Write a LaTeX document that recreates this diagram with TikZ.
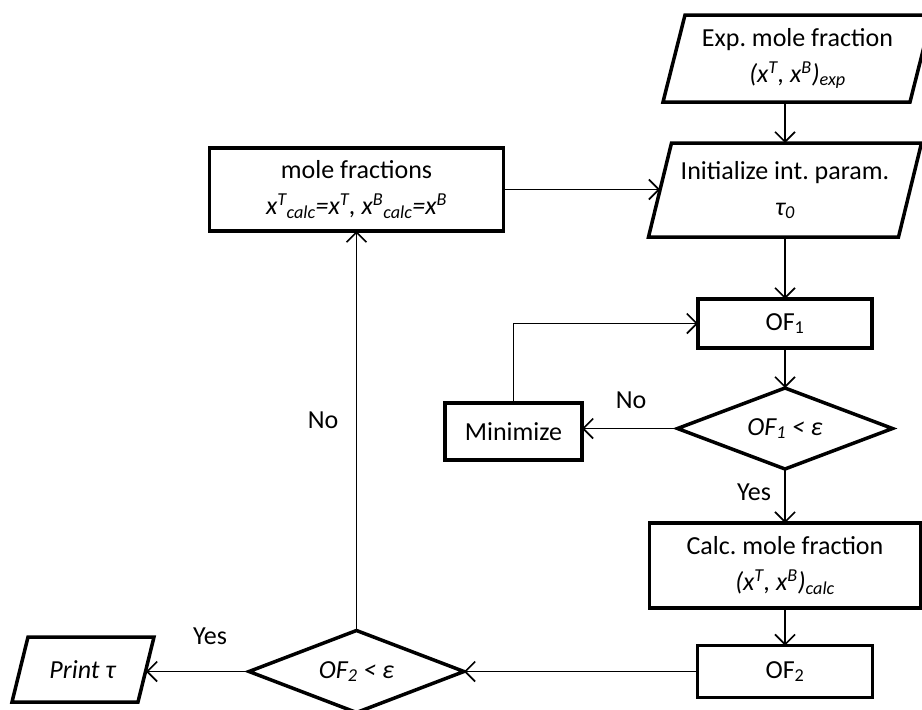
\documentclass[tikz,border=0pt]{standalone}
\usepackage{fontspec}
\setmainfont{Carlito}
\usetikzlibrary{arrows.meta}
\frenchspacing
\begin{document}
\begin{tikzpicture}[x=1pt,y=-1pt,
  txt/.style={inner sep=0pt, outer sep=0pt, align=center, font=\fontsize{26}{36}\selectfont},
  rbox/.style={txt, draw, line width=3.5pt},
  shp/.style={line width=3.5pt, line join=miter},
  conn/.style={line width=1.6pt, -{Straight Barb[length=10pt,width=20pt,line width=1.6pt]}},
  lbl/.style={inner sep=0pt, font=\fontsize{26}{30}\selectfont}]
\useasboundingbox (0,0) rectangle (922,710);
% nodes
\node[txt, minimum width=247pt, minimum height=87pt] (exp) at (797.5,58.5)
  {Exp. mole fraction\\ \textit{(x\textsuperscript{T}, x\textsuperscript{B})\textsubscript{exp}}};
\node[txt, minimum width=250pt, minimum height=94pt] (init) at (785,190)
  {Initialize int. param.\\ \textit{τ\textsubscript{0}}};
\node[rbox, minimum width=294pt, minimum height=83pt] (mole) at (356.5,189.5)
  {mole fractions\\ \textit{x\textsuperscript{T}\textsubscript{calc}=x\textsuperscript{T}, x\textsuperscript{B}\textsubscript{calc}=x\textsuperscript{B}}};
\node[rbox, minimum width=174pt, minimum height=49pt] (of1) at (785,323.5) {OF\textsubscript{1}};
\node[txt, minimum width=215pt, minimum height=81pt] (d1) at (785,428.5) {\textit{OF\textsubscript{1} < ε}};
\node[rbox, minimum width=137pt, minimum height=57pt] (mini) at (513.5,431.5) {Minimize};
\node[rbox, minimum width=271pt, minimum height=85pt] (calc) at (785,565.5)
  {Calc. mole fraction\\ \textit{(x\textsuperscript{T}, x\textsuperscript{B})\textsubscript{calc}}};
\node[rbox, minimum width=175pt, minimum height=52pt] (of2) at (785,671.5) {OF\textsubscript{2}};
\node[txt, minimum width=215pt, minimum height=82pt] (d2) at (356.5,671.5) {\textit{OF\textsubscript{2} < ε}};
\node[txt, minimum width=126pt, minimum height=65pt] (print) at (83,669.5) {\textit{Print τ}};
% shapes
\draw[shp] ([xshift=11pt]exp.north west) -- ([xshift=11pt]exp.north east) -- ([xshift=-11pt]exp.south east) -- ([xshift=-11pt]exp.south west) -- cycle;
\draw[shp] ([xshift=11.5pt]init.north west) -- ([xshift=11.5pt]init.north east) -- ([xshift=-11.5pt]init.south east) -- ([xshift=-11.5pt]init.south west) -- cycle;
\draw[shp] ([xshift=8pt]print.north west) -- ([xshift=8pt]print.north east) -- ([xshift=-8pt]print.south east) -- ([xshift=-8pt]print.south west) -- cycle;
\draw[shp] (d1.north) -- (d1.east) -- (d1.south) -- (d1.west) -- cycle;
\draw[shp] (d2.north) -- (d2.east) -- (d2.south) -- (d2.west) -- cycle;
% connectors
\draw[conn] (exp.south -| init.north) -- (init.north);
\draw[conn] (mole.east) -- (mole.east -| init.west);
\draw[conn] (init.south) -- (of1.north);
\draw[conn] (of1.south) -- (d1.north);
\draw[conn] (d1.west) -- (d1.west -| mini.east);
\draw[conn] (mini.north) |- (of1.west);
\draw[conn] (d1.south) -- (calc.north);
\draw[conn] (calc.south) -- (of2.north);
\draw[conn] (of2.west) -- (d2.east);
\draw[conn] (d2.west) -- (d2.west -| print.east);
\draw[conn] (d2.north) -- (mole.south);
% labels
\node[lbl] (no1) at (323,420) {No};
\node[lbl] (no2) at (631,400) {No};
\node[lbl] (yes1) at (754,492) {Yes};
\node[lbl] (yes2) at (210,636) {Yes};
\end{tikzpicture}
\end{document}
